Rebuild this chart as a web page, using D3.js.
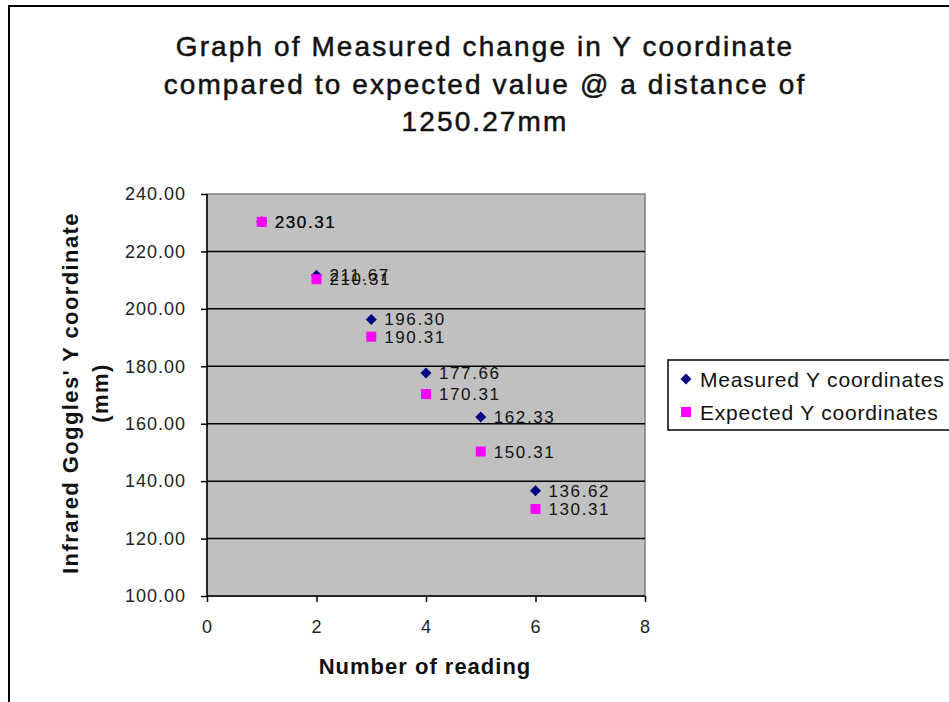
<!DOCTYPE html>
<html>
<head>
<meta charset="utf-8">
<script src="https://d3js.org/d3.v7.min.js"></script>
<style>
  body { margin: 0; background: #fff; }
  svg { display: block; font-family: "Liberation Sans", Arial, sans-serif; }
</style>
</head>
<body>
<div id="chart"></div>
<script>
// readings and values
var readings = [1, 2, 3, 4, 5, 6]
var measured = [230.31, 211.67, 196.30, 177.66, 162.33, 136.62]
var expected = [230.31, 210.31, 190.31, 170.31, 150.31, 130.31]
var xTicks = [0, 2, 4, 6, 8]
var yTicks = [100, 120, 140, 160, 180, 200, 220, 240]
var seriesNames = ["Measured Y coordinates", "Expected Y coordinates"]
var titleLines = ["Graph of Measured change in  Y coordinate", "compared to expected value @ a distance of", "1250.27mm"]

var width = 949, height = 702
var svg = d3.select("#chart").append("svg")
  .attr("width", width).attr("height", height)

// chart frame
svg.append("rect")
  .attr("x", 9).attr("y", 6).attr("width", 960).attr("height", 720)
  .attr("fill", "#fff").attr("stroke", "#000").attr("stroke-width", 2)

var plot = {left: 207, right: 645, top: 194, bottom: 596}
var x = d3.scaleLinear().domain([0, 8]).range([plot.left, plot.right])
var y = d3.scaleLinear().domain([100, 240]).range([plot.bottom, plot.top])

// plot background
svg.append("rect")
  .attr("x", plot.left).attr("y", plot.top)
  .attr("width", plot.right - plot.left).attr("height", plot.bottom - plot.top)
  .attr("fill", "#c0c0c0").attr("stroke", "#808080").attr("stroke-width", 1.5)

// gridlines
svg.append("g").selectAll("line").data(yTicks.slice(1, -1)).join("line")
  .attr("x1", plot.left).attr("x2", plot.right)
  .attr("y1", function(d){ return y(d) }).attr("y2", function(d){ return y(d) })
  .attr("stroke", "#000").attr("stroke-width", 1.5)

// axes
var yAxis = svg.append("g").attr("transform", "translate(" + plot.left + ",0)")
  .call(d3.axisLeft(y).tickValues(yTicks).tickFormat(d3.format(".2f")).tickSize(6).tickPadding(15))
var xAxis = svg.append("g").attr("transform", "translate(0," + plot.bottom + ")")
  .call(d3.axisBottom(x).tickValues(xTicks).tickSize(6).tickPadding(18))
;[yAxis, xAxis].forEach(function(ax){
  ax.select(".domain").attr("stroke", "#000").attr("stroke-width", 1.5)
  ax.selectAll(".tick line").attr("stroke", "#000").attr("stroke-width", 1.5)
  ax.selectAll(".tick text").attr("fill", "#222")
    .style("font-family", "'Liberation Sans', Arial, sans-serif").style("font-size", "18px")
    .style("letter-spacing", "1px")
})
yAxis.select(".domain").attr("d", "M0," + plot.bottom + "V" + plot.top)
xAxis.select(".domain").attr("d", "M" + plot.left + ",0H" + plot.right)

// title
svg.append("g").selectAll("text").data(titleLines).join("text")
  .attr("x", 485).attr("y", function(d, i){ return 56 + i * 37.5 })
  .attr("text-anchor", "middle")
  .attr("font-size", 28).attr("fill", "#111")
  .attr("letter-spacing", 2.1)
  .attr("stroke", "#111").attr("stroke-width", 0.5)
  .text(function(d){ return d })

// axis titles
svg.append("text")
  .attr("x", 425).attr("y", 674).attr("text-anchor", "middle")
  .attr("font-size", 22).attr("font-weight", "bold").attr("fill", "#111")
  .attr("letter-spacing", 1)
  .text("Number of reading")
var yTitle = svg.append("text")
  .attr("transform", "translate(78,393) rotate(-90)")
  .attr("text-anchor", "middle")
  .attr("font-size", 22).attr("font-weight", "bold").attr("fill", "#111")
  .attr("letter-spacing", 1.4)
yTitle.append("tspan").attr("x", 0).attr("dy", 0).text("Infrared Goggles' Y coordinate")
yTitle.append("tspan").attr("x", 0).attr("dy", 30).text("(mm)")

// markers
var diamond = "M0,-5.5L5.5,0L0,5.5L-5.5,0Z"
var measuredPts = readings.map(function(r, i){ return {x: r, y: measured[i]} })
var expectedPts = readings.map(function(r, i){ return {x: r, y: expected[i]} })

svg.append("g").selectAll("path").data(measuredPts).join("path")
  .attr("d", diamond)
  .attr("transform", function(d){ return "translate(" + x(d.x) + "," + y(d.y) + ")" })
  .attr("fill", "#000080")
svg.append("g").selectAll("rect").data(expectedPts).join("rect")
  .attr("x", function(d){ return x(d.x) - 5 }).attr("y", function(d){ return y(d.y) - 5 })
  .attr("width", 10).attr("height", 10)
  .attr("fill", "#ff00ff")

// data labels
function labels(pts){
  svg.append("g").selectAll("text").data(pts).join("text")
    .attr("x", function(d){ return x(d.x) + 13 }).attr("y", function(d){ return y(d.y) + 6 })
    .attr("font-size", 17).attr("fill", "#111").attr("letter-spacing", 1.6)
    .text(function(d){ return d.y.toFixed(2) })
}
labels(measuredPts)
labels(expectedPts)

// legend
var legend = svg.append("g").attr("transform", "translate(668,360)")
legend.append("rect").attr("width", 300).attr("height", 70)
  .attr("fill", "#fff").attr("stroke", "#000").attr("stroke-width", 1.5)
legend.append("path").attr("d", diamond).attr("transform", "translate(18,19)").attr("fill", "#000080")
legend.append("rect").attr("x", 13).attr("y", 47).attr("width", 10).attr("height", 10).attr("fill", "#ff00ff")
legend.selectAll("text.item").data(seriesNames).join("text")
  .attr("class", "item")
  .attr("x", 32).attr("y", function(d, i){ return 27 + i * 33 })
  .attr("font-size", 21).attr("fill", "#111").attr("letter-spacing", 0.8)
  .text(function(d){ return d })
</script>
</body>
</html>
